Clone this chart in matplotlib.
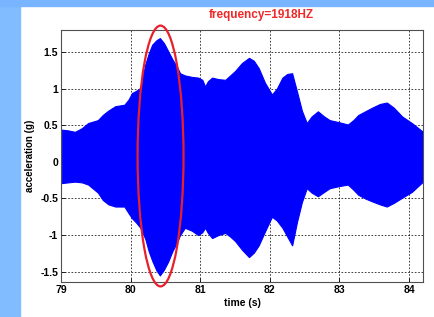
import matplotlib
matplotlib.use("Agg")
import matplotlib.pyplot as plt
from matplotlib.patches import Ellipse, Rectangle
import numpy as np

# envelope of the acceleration record
time_s = [79.01, 79.10, 79.20, 79.30, 79.39, 79.53, 79.60, 79.68, 79.78, 79.91,
          79.97, 80.02, 80.08, 80.14, 80.21, 80.26, 80.31, 80.37, 80.42, 80.48,
          80.54, 80.60, 80.67, 80.71, 80.78, 80.88, 80.97, 81.03, 81.07, 81.11,
          81.17, 81.26, 81.36, 81.43, 81.50, 81.60, 81.70, 81.77, 81.84, 81.93,
          82.03, 82.10, 82.18, 82.25, 82.32, 82.39, 82.46, 82.53, 82.60, 82.69,
          82.78, 82.86, 83.00, 83.12, 83.20, 83.27, 83.37, 83.47, 83.58, 83.68,
          83.78, 83.90, 84.04, 84.12, 84.20]
upper_g = [0.44, 0.43, 0.41, 0.46, 0.53, 0.57, 0.64, 0.70, 0.76, 0.78,
           0.85, 0.94, 0.97, 1.01, 1.33, 1.48, 1.60, 1.66, 1.69, 1.62,
           1.51, 1.40, 1.29, 1.21, 1.18, 1.16, 1.15, 1.12, 1.03, 1.10,
           1.15, 1.13, 1.12, 1.18, 1.24, 1.35, 1.42, 1.38, 1.28, 1.08,
           0.92, 1.00, 1.15, 1.20, 1.21, 0.96, 0.70, 0.53, 0.62, 0.69,
           0.62, 0.57, 0.54, 0.51, 0.57, 0.64, 0.69, 0.74, 0.79, 0.81,
           0.74, 0.62, 0.53, 0.47, 0.41]
lower_g = [-0.29, -0.28, -0.27, -0.28, -0.31, -0.42, -0.52, -0.58, -0.61, -0.61,
           -0.70, -0.77, -0.83, -0.90, -1.05, -1.22, -1.35, -1.48, -1.55, -1.47,
           -1.36, -1.22, -1.09, -1.00, -0.90, -0.94, -1.00, -0.96, -0.90, -0.97,
           -1.04, -1.00, -0.97, -1.02, -1.08, -1.20, -1.30, -1.24, -1.14, -0.95,
           -0.75, -0.80, -0.90, -1.02, -1.14, -0.82, -0.55, -0.36, -0.42, -0.47,
           -0.41, -0.36, -0.33, -0.31, -0.38, -0.45, -0.50, -0.54, -0.58, -0.61,
           -0.56, -0.49, -0.41, -0.34, -0.27]

x_ticks = [79, 80, 81, 82, 83, 84]
y_ticks = [-1.5, -1, -0.5, 0, 0.5, 1, 1.5]
y_labels = ['-1.5', '-1', '-0.5', '0', '0.5', '1', '1.5']

plt.rcParams['font.family'] = ['Liberation Sans', 'DejaVu Sans']

fig = plt.figure(figsize=(4.35, 3.17), dpi=100)
fig.patch.set_facecolor('white')
# light blue frame strips (left and top)
fig.patches.append(Rectangle((0, 0), 20 / 435, 1, transform=fig.transFigure,
                             color='#80bcff', zorder=0))
fig.patches.append(Rectangle((0, 1 - 6 / 317), 1, 6 / 317, transform=fig.transFigure,
                             color='#78b4ff', zorder=0))

ax = fig.add_axes([61 / 435, 1 - 282 / 317, 362 / 435, 252 / 317])
ax.set_axisbelow(True)
ax.fill_between(time_s, lower_g, upper_g, color='#0000ff', lw=0.8, edgecolor='#0000ff',
                zorder=2)

ax.set_xlim(79, 84.2)
ax.set_ylim(-1.64, 1.8)
ax.set_xticks(x_ticks)
ax.set_xticklabels([str(t) for t in x_ticks])
ax.set_yticks(y_ticks)
ax.set_yticklabels(y_labels)
ax.grid(True, linestyle=(0, (2, 2)), color='#202020', linewidth=0.6)
ax.tick_params(direction='in', length=3, width=0.6, labelsize=7.5, pad=2)
for lab in ax.get_xticklabels() + ax.get_yticklabels():
    lab.set_fontweight('bold')
for sp in ax.spines.values():
    sp.set_color('#505050')
    sp.set_linewidth(0.8)

ax.set_xlabel('time (s)', fontsize=7.5, fontweight='bold', labelpad=2)
ax.set_ylabel('acceleration (g)', fontsize=7, fontweight='bold', labelpad=4)

fig.text(261 / 435, 1 - 15 / 317, 'frequency=1918HZ', color='#f02828',
         fontsize=8.5, fontweight='bold', ha='center', va='center')

# red ellipse marking the resonance peak
ell = Ellipse((80.43, 0.08), 0.66, 3.56, fill=False, edgecolor='#e8202a',
              linewidth=1.6, clip_on=False, zorder=5)
ax.add_patch(ell)

fig.savefig('out.png', dpi=100)
